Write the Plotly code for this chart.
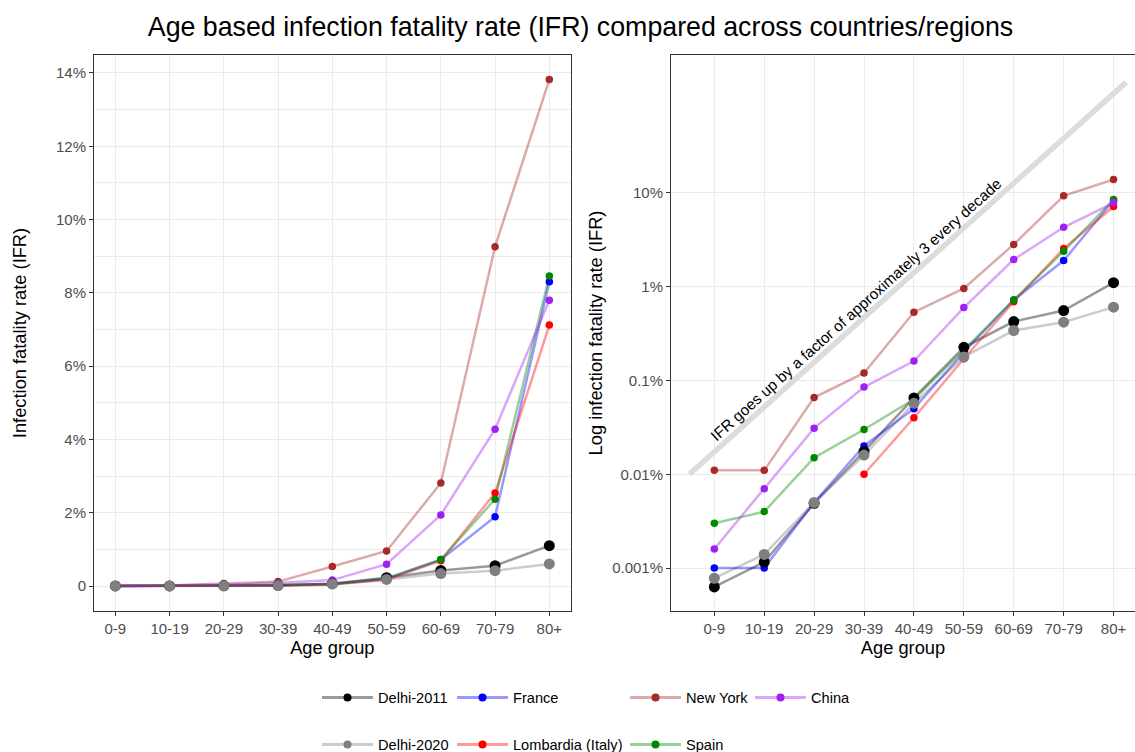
import math
import plotly.graph_objects as go

# ---------------- data (IFR in percent) ----------------
age_groups = ["0-9", "10-19", "20-29", "30-39", "40-49", "50-59", "60-69", "70-79", "80+"]
delhi_2011 = [0.00063, 0.00116, 0.0049, 0.0175, 0.065, 0.225, 0.424, 0.555, 1.10]
delhi_2020 = [0.00078, 0.0014, 0.0050, 0.0160, 0.057, 0.178, 0.340, 0.417, 0.603]
france = [0.0010, 0.0010, 0.0050, 0.0200, 0.050, 0.20, 0.72, 1.89, 8.30]
lombardia = [0, 0, 0, 0.0100, 0.040, 0.170, 0.69, 2.54, 7.12]
new_york = [0.011, 0.011, 0.0656, 0.120, 0.533, 0.955, 2.81, 9.26, 13.82]
spain = [0.0030, 0.0040, 0.0150, 0.0300, 0.063, 0.210, 0.72, 2.37, 8.46]
china = [0.0016, 0.0070, 0.0310, 0.0850, 0.161, 0.597, 1.94, 4.28, 7.80]

left_ticks = [0, 2, 4, 6, 8, 10, 12, 14]
left_ticktext = ["0", "2%", "4%", "6%", "8%", "10%", "12%", "14%"]
left_minor = [1, 3, 5, 7, 9, 11, 13]
right_ticks = [0.001, 0.01, 0.1, 1, 10]
right_ticktext = ["0.001%", "0.01%", "0.1%", "1%", "10%"]

# reference line: IFR x3 per decade
trend_x = [-0.5, 8.25]
trend_start = 0.01
trend_factor = 3
trend_label = "IFR goes up by a factor of approximately 3 every decade"

# ---------------- styles ----------------
names = ["Delhi-2011", "Delhi-2020", "France", "Lombardia (Italy)", "New York", "Spain", "China"]
values = [delhi_2011, delhi_2020, france, lombardia, new_york, spain, china]
marker_colors = ["#000000", "#7f7f7f", "#0000ff", "#ff0000", "#a52a2a", "#008800", "#a020f0"]
line_colors = ["rgba(0,0,0,0.4)", "rgba(127,127,127,0.4)", "rgba(0,0,255,0.4)",
               "rgba(255,0,0,0.4)", "rgba(165,42,42,0.4)", "rgba(0,136,0,0.4)",
               "rgba(160,32,240,0.4)"]
marker_sizes = [11, 11, 7.5, 7.5, 7.5, 7.5, 7.5]
legend_ids = ["legend", "legend", "legend2", "legend2", "legend3", "legend3", "legend4"]
marker_order = [2, 3, 4, 5, 6, 0, 1]
LW = 2.5
FONT = "Liberation Sans, Arial, sans-serif"

W, H = 1135, 752
ML, MR, MT, MB = 94, 0, 55.3, 140.5
PW = W - ML - MR
PH = H - MT - MB

idx = list(range(len(age_groups)))
fig = go.Figure()

# reference line on the log panel
tx = trend_x
ty = [trend_start * trend_factor ** (x - trend_x[0]) for x in tx]
fig.add_trace(go.Scatter(x=tx, y=ty, mode="lines", xaxis="x2", yaxis="y2",
                         line=dict(color="#dcdcdc", width=5.5), showlegend=False,
                         hoverinfo="skip"))


def pos(v):
    return [y if (y is not None and y > 0) else None for y in v]

# lines
for i, v in enumerate(values):
    fig.add_trace(go.Scatter(x=idx, y=v, mode="lines", xaxis="x", yaxis="y",
                             line=dict(color=line_colors[i], width=LW), showlegend=False,
                             name=names[i]))
    fig.add_trace(go.Scatter(x=idx, y=pos(v), mode="lines", xaxis="x2", yaxis="y2",
                             line=dict(color=line_colors[i], width=LW), showlegend=False,
                             name=names[i]))
# points
for i in marker_order:
    v = values[i]
    fig.add_trace(go.Scatter(x=idx, y=v, mode="markers", xaxis="x", yaxis="y",
                             marker=dict(color=marker_colors[i], size=marker_sizes[i]),
                             showlegend=False, name=names[i]))
    fig.add_trace(go.Scatter(x=idx, y=pos(v), mode="markers", xaxis="x2", yaxis="y2",
                             marker=dict(color=marker_colors[i], size=marker_sizes[i]),
                             showlegend=False, name=names[i]))
# legend entries
for i, n in enumerate(names):
    fig.add_trace(go.Scatter(x=[None], y=[None], mode="lines+markers", name=n,
                             legend=legend_ids[i], legendgroup=n,
                             line=dict(color=line_colors[i], width=3),
                             marker=dict(color=marker_colors[i], size=8)))

tickfont = dict(family=FONT, size=15, color="#4d4d4d")
titlefont = dict(family=FONT, size=18.3, color="#000000")
axis_common = dict(showgrid=True, gridcolor="#ebebeb", gridwidth=1.1, zeroline=False,
                   showline=True, linecolor="#333333", linewidth=1, ticks="outside",
                   ticklen=4, tickwidth=1, tickcolor="#333333", tickfont=tickfont)


def px_to_xpaper(px):
    return (px - ML) / PW


def py_to_ypaper(py):
    return (H - MB - py) / PH

legend_common = dict(orientation="v", bgcolor="rgba(0,0,0,0)", borderwidth=0,
                     font=dict(family=FONT, size=14.6, color="#000000"),
                     traceorder="grouped", tracegroupgap=25, itemwidth=51,
                     xanchor="left", yanchor="top", xref="paper", yref="paper")
leg_x = [317, 452, 625, 750]
leg_top = 682

fig.update_layout(
    width=W, height=H,
    margin=dict(l=ML, r=MR, t=MT, b=MB, autoexpand=False),
    paper_bgcolor="white", plot_bgcolor="white",
    font=dict(family=FONT),
    title=dict(text="Age based infection fatality rate (IFR) compared across countries/regions",
               x=580.5 / W, xref="container", xanchor="center",
               y=1 - 27 / H, yref="container", yanchor="middle",
               font=dict(family=FONT, size=26.75, color="#000000")),
    xaxis=dict(axis_common, domain=[0, px_to_xpaper(570.7)], range=[-0.393, 8.394],
               tickmode="array", tickvals=idx, ticktext=age_groups, mirror=True,
               anchor="y", title=dict(text="Age group", font=titlefont, standoff=1)),
    yaxis=dict(axis_common, range=[-0.682, 14.49], tickmode="array",
               tickvals=left_ticks, ticktext=left_ticktext, mirror=True, anchor="x",
               minor=dict(tickmode="array", tickvals=left_minor, showgrid=True,
                          gridcolor="#ebebeb", gridwidth=0.55, ticks=""),
               title=dict(text="Infection fatality rate (IFR)", font=titlefont, standoff=24)),
    xaxis2=dict(axis_common, domain=[px_to_xpaper(671), 1], range=[-0.868, 8.43],
                tickmode="array", tickvals=idx, ticktext=age_groups, mirror=True,
                anchor="y2", title=dict(text="Age group", font=titlefont, standoff=1)),
    yaxis2=dict(axis_common, type="log", range=[-3.457, 2.467], tickmode="array",
                tickvals=right_ticks, ticktext=right_ticktext, mirror=False, anchor="x2",
                title=dict(text="Log infection fatality rate (IFR)", font=titlefont, standoff=4)),
    legend=dict(legend_common, x=px_to_xpaper(leg_x[0]), y=py_to_ypaper(leg_top)),
    legend2=dict(legend_common, x=px_to_xpaper(leg_x[1]), y=py_to_ypaper(leg_top)),
    legend3=dict(legend_common, x=px_to_xpaper(leg_x[2]), y=py_to_ypaper(leg_top)),
    legend4=dict(legend_common, x=px_to_xpaper(leg_x[3]), y=py_to_ypaper(leg_top)),
    showlegend=True,
)

fig.add_annotation(x=2.84, y=math.log10(0.565), xref="x2", yref="y2", text=trend_label,
                   showarrow=False, textangle=-41.9,
                   font=dict(family=FONT, size=15.3, color="#000000"))

fig.write_html("out.html", config={"displayModeBar": False},
               post_script="document.body.style.margin='0px';document.body.style.overflow='hidden';")
